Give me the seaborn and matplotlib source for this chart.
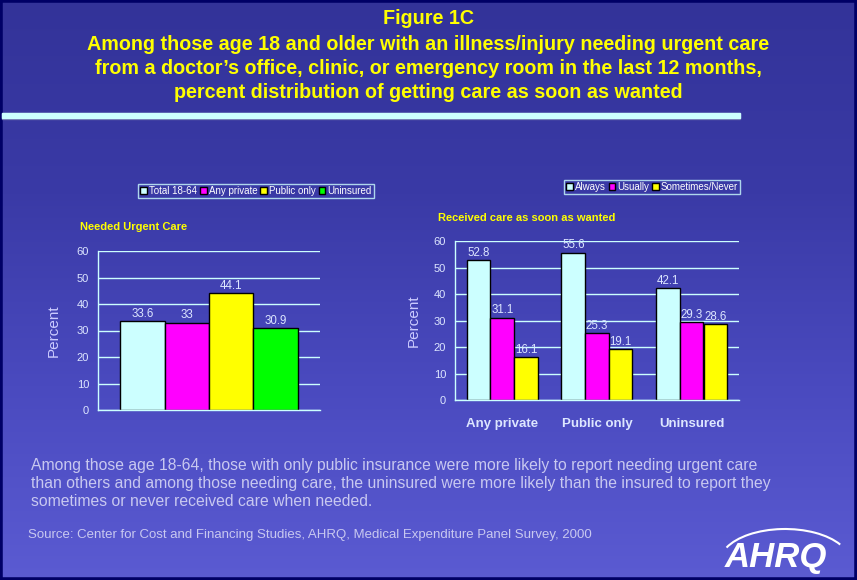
import numpy as np
import pandas as pd
import seaborn as sns
import matplotlib.pyplot as plt
from matplotlib.patches import Rectangle, Arc
from matplotlib.colors import LinearSegmentedColormap

# data
need_groups = ["Total 18-64", "Any private", "Public only", "Uninsured"]
need_values = [33.6, 33, 44.1, 30.9]

ins_types = ["Any private", "Public only", "Uninsured"]
answers = ["Always", "Usually", "Sometimes/Never"]
always = [52.8, 55.6, 42.1]
usually = [31.1, 25.3, 29.3]
sometimes = [16.1, 19.1, 28.6]

sns.set_style("white")
plt.rcParams['font.family'] = ['Liberation Sans', 'DejaVu Sans']

LIGHT = "#ccffff"
TXT = "#dde6ff"
colors4 = ["#ccffff", "#ff00ff", "#ffff00", "#00ff00"]

fig = plt.figure(figsize=(8.57, 5.80), dpi=100)

# background gradient
bg = fig.add_axes([0, 0, 1, 1], zorder=-5)
grad = np.linspace(0, 1, 256).reshape(-1, 1)
cmap = LinearSegmentedColormap.from_list("bg", ["#333399", "#3a3aa6", "#4a4abf", "#5b5bd2"])
bg.imshow(grad, aspect="auto", cmap=cmap, extent=[0, 1, 0, 1], origin="upper")
bg.set_xlim(0, 1)
bg.set_ylim(0, 1)
bg.axis("off")
bg.add_patch(Rectangle((0, 0), 1, 1, transform=bg.transAxes, fill=False, edgecolor="#000066", lw=4))
# divider bar under title
bg.add_patch(Rectangle((2 / 857, 1 - 119 / 580), 738 / 857, 6 / 580, color="#6666aa"))
bg.add_patch(Rectangle((2 / 857, 1 - 118 / 580), 738 / 857, 5 / 580, color=LIGHT))

# title
fig.text(0.5, 1 - 18 / 580, "Figure 1C", ha="center", va="center", color="#ffff00",
         fontsize=14.2, fontweight="bold")
title_lines = ["Among those age 18 and older with an illness/injury needing urgent care",
               "from a doctor\u2019s office, clinic, or emergency room in the last 12 months,",
               "percent distribution of getting care as soon as wanted"]
for i, line in enumerate(title_lines):
    fig.text(0.5, 1 - (45 + 23.5 * i) / 580, line, ha="center", va="center",
             color="#ffff00", fontsize=14.2, fontweight="bold")


def style_axes(ax):
    ax.set_facecolor("none")
    ax.set_ylim(0, 60)
    ax.set_yticks(range(0, 61, 10))
    ax.yaxis.grid(True, color=LIGHT, lw=1)
    ax.set_axisbelow(True)
    for s in ["top", "right"]:
        ax.spines[s].set_visible(False)
    for s in ["left", "bottom"]:
        ax.spines[s].set_color(LIGHT)
        ax.spines[s].set_linewidth(1)
    ax.tick_params(axis="y", colors=LIGHT, labelsize=8, length=3, width=1, labelcolor=TXT)
    ax.set_ylabel("Percent", color="#ccccff", fontsize=11)
    for c in ax.containers:
        ax.bar_label(c, labels=[f"{v:g}" for v in c.datavalues], color=TXT, fontsize=8.3, padding=1)


def style_legend(leg):
    leg.get_frame().set_facecolor("none")
    leg.get_frame().set_edgecolor(LIGHT)
    for t in leg.get_texts():
        t.set_color("white")


leg_kw = dict(loc="center", bbox_transform=fig.transFigure, fontsize=7, frameon=True,
              handlelength=0.7, handleheight=0.7, handletextpad=0.2, columnspacing=0.3,
              borderpad=0.25, borderaxespad=0, fancybox=False)

# left panel
df1 = pd.DataFrame({"panel": [""] * 4, "group": need_groups, "pct": need_values})
ax1 = fig.add_axes([98 / 857, 1 - 410 / 580, 222 / 857, 159 / 580])
sns.barplot(data=df1, x="panel", y="pct", hue="group", hue_order=need_groups,
            palette=colors4, saturation=1, edgecolor="black", linewidth=1, width=0.8, ax=ax1)
style_axes(ax1)
ax1.set_xlim(-0.5, 0.5)
ax1.set_xlabel("")
ax1.set_xticks([-0.5, 0.5])
ax1.set_xticklabels([])
ax1.tick_params(axis="x", colors=LIGHT, length=4, direction="out")
ax1.yaxis.set_label_coords(-0.17, 0.5)
leg1 = ax1.legend(bbox_to_anchor=(256 / 857, 1 - 191 / 580), ncol=4, **leg_kw)
style_legend(leg1)
fig.text(80 / 857, 1 - 227 / 580, "Needed Urgent Care", color="#ffff00", fontsize=8,
         fontweight="bold", va="center")

# right panel
df2 = pd.DataFrame({
    "type": ins_types * 3,
    "answer": [answers[0]] * 3 + [answers[1]] * 3 + [answers[2]] * 3,
    "pct": always + usually + sometimes,
})
ax2 = fig.add_axes([455 / 857, 1 - 400 / 580, 284 / 857, 159 / 580])
sns.barplot(data=df2, x="type", y="pct", hue="answer", order=ins_types, hue_order=answers,
            palette=colors4[:3], saturation=1, edgecolor="black", linewidth=1, width=0.75, ax=ax2)
style_axes(ax2)
ax2.set_xlim(-0.5, 2.5)
ax2.set_xlabel("")
ax2.tick_params(axis="x", length=0, pad=13, labelsize=9.5, labelcolor=TXT)
for lbl in ax2.get_xticklabels():
    lbl.set_fontweight("bold")
ax2.set_xticks([-0.5, 0.5, 1.5, 2.5], minor=True)
ax2.tick_params(axis="x", which="minor", colors=LIGHT, length=4, direction="out")
ax2.yaxis.set_label_coords(-0.12, 0.5)
leg2 = ax2.legend(bbox_to_anchor=(652 / 857, 1 - 187 / 580), ncol=3, **leg_kw)
style_legend(leg2)
fig.text(438 / 857, 1 - 218 / 580, "Received care as soon as wanted", color="#ffff00",
         fontsize=8, fontweight="bold", va="center")

# notes
note = ("Among those age 18-64, those with only public insurance were more likely to report needing urgent care\n"
        "than others and among those needing care, the uninsured were more likely than the insured to report they\n"
        "sometimes or never received care when needed.")
fig.text(31 / 857, 1 - 458 / 580, note, color="#c8c8f0", fontsize=11.3, va="top", linespacing=1.25)
fig.text(28 / 857, 1 - 535 / 580,
         "Source: Center for Cost and Financing Studies, AHRQ, Medical Expenditure Panel Survey, 2000",
         color="#c8c8f0", fontsize=9.5, va="center")

# logo
fig.text(776 / 857, 1 - 558 / 580, "AHRQ", color="white", fontsize=25, fontweight="bold",
         style="italic", ha="center", va="center")
bg.add_patch(Arc((785 / 857, 1 - 562 / 580), 130 / 857, 66 / 580, theta1=25, theta2=160,
                 color="white", lw=1.5))

fig.savefig("out.png", dpi=100)
